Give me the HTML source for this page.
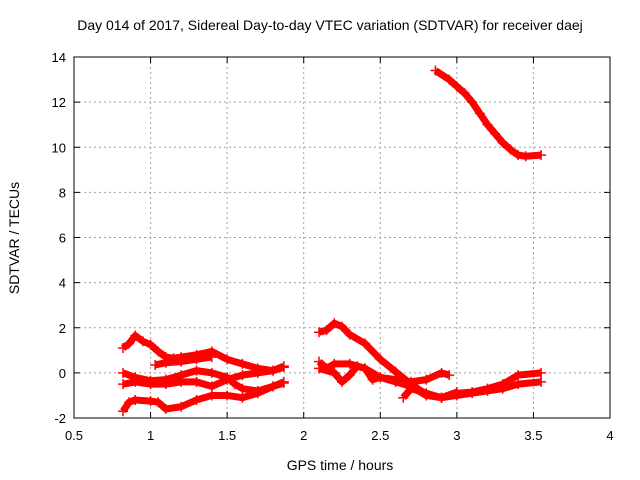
<!DOCTYPE html>
<html><head><meta charset="utf-8"><style>
body{margin:0;background:#fff}
svg{display:block;font-family:"Liberation Sans",sans-serif}
</style></head><body>
<svg id="c" width="640" height="480"></svg>
<script>
const xTicks=[0.5,1,1.5,2,2.5,3,3.5,4];
const xTickLabels=["0.5","1","1.5","2","2.5","3","3.5","4"];
const yTicks=[-2,0,2,4,6,8,10,12,14];
const yTickLabels=["-2","0","2","4","6","8","10","12","14"];
const s1t=[0.82,0.86,0.9,0.95,1.0,1.05,1.1,1.15,1.2,1.3,1.4,1.5,1.6,1.7,1.8,1.87];
const s1v=[1.1,1.3,1.65,1.4,1.25,0.95,0.7,0.65,0.7,0.8,0.95,0.6,0.4,0.2,0.1,0.25];
const s2t=[1.03,1.1,1.2,1.3,1.4];
const s2v=[0.35,0.45,0.5,0.6,0.7];
const s3t=[0.82,0.9,1.0,1.1,1.2,1.3,1.4,1.5,1.55,1.6,1.7,1.8,1.87];
const s3v=[0.0,-0.2,-0.35,-0.3,-0.1,0.1,0.0,-0.2,-0.5,-0.7,-0.8,-0.6,-0.4];
const s4t=[0.82,0.9,1.0,1.1,1.2,1.3,1.4,1.5,1.6,1.7,1.8,1.87];
const s4v=[-0.5,-0.4,-0.5,-0.5,-0.4,-0.4,-0.6,-0.3,-0.1,0.0,0.1,0.3];
const s5t=[0.82,0.86,0.9,1.0,1.05,1.1,1.2,1.3,1.4,1.5,1.6,1.7,1.8,1.87];
const s5v=[-1.7,-1.3,-1.2,-1.25,-1.3,-1.6,-1.5,-1.2,-1.0,-1.0,-1.1,-0.9,-0.6,-0.45];
const t1t=[2.1,2.15,2.2,2.25,2.3,2.4,2.5,2.6,2.7,2.8,2.9,3.0,3.1,3.2,3.3,3.4,3.55];
const t1v=[1.8,1.9,2.2,2.05,1.7,1.3,0.6,0.05,-0.5,-0.95,-1.1,-0.9,-0.85,-0.7,-0.5,-0.1,0.0];
const t2t=[2.1,2.15,2.2,2.3,2.4,2.5,2.6,2.7,2.8,2.9,3.0,3.1,3.2,3.3,3.4,3.55];
const t2v=[0.5,0.2,0.4,0.4,0.2,-0.2,-0.4,-0.6,-1.0,-1.1,-1.0,-0.9,-0.8,-0.7,-0.5,-0.4];
const t3t=[2.1,2.2,2.25,2.3,2.35,2.4,2.45,2.5,2.6,2.7,2.8,2.9,2.95];
const t3v=[0.2,0.0,-0.4,-0.1,0.3,0.2,-0.3,-0.2,-0.3,-0.4,-0.3,0.0,-0.1];
const t4t=[2.65,2.7,2.8,2.9,3.0];
const t4v=[-1.1,-0.7,-0.9,-1.1,-0.85];
const ut=[2.86,2.95,3.0,3.05,3.1,3.15,3.2,3.25,3.3,3.35,3.4,3.45,3.55];
const uv=[13.4,13.0,12.7,12.4,12.0,11.5,11.0,10.6,10.2,9.9,9.65,9.6,9.65];
const series=[[s1t,s1v],[s2t,s2v],[s3t,s3v],[s4t,s4v],[s5t,s5v],[t1t,t1v],[t2t,t2v],[t3t,t3v],[t4t,t4v],[ut,uv]];

const L=74,R=610,T=57,B=418,xmin=0.5,xmax=4,ymin=-2,ymax=14;
const X=v=>L+(v-xmin)/(xmax-xmin)*(R-L);
const Y=v=>B-(v-ymin)/(ymax-ymin)*(B-T);
const svg=document.getElementById('c');
const NS='http://www.w3.org/2000/svg';
function mk(tag,at,parent){const e=document.createElementNS(NS,tag);for(const k in at)e.setAttribute(k,at[k]);(parent||svg).appendChild(e);return e;}

xTicks.forEach((v,i)=>{
 if(i>0&&i<xTicks.length-1){const g=mk('line',{x1:X(v),x2:X(v),y1:T,y2:B,stroke:'#a0a0a0','stroke-dasharray':'2,3'});
 
 }
 mk('line',{x1:X(v),x2:X(v),y1:B,y2:B-6,stroke:'#000'});
 mk('line',{x1:X(v),x2:X(v),y1:T,y2:T+6,stroke:'#000'});
 const t=mk('text',{x:X(v),y:B+22,'text-anchor':'middle','font-size':13});t.textContent=xTickLabels[i];
 
 
});
yTicks.forEach((v,i)=>{
 if(i>0&&i<yTicks.length-1){const g=mk('line',{x1:L,x2:R,y1:Y(v),y2:Y(v),stroke:'#a0a0a0','stroke-dasharray':'2,3'});
 
 }
 mk('line',{x1:L,x2:L+6,y1:Y(v),y2:Y(v),stroke:'#000'});
 mk('line',{x1:R,x2:R-6,y1:Y(v),y2:Y(v),stroke:'#000'});
 const t=mk('text',{x:L-8,y:Y(v)+5,'text-anchor':'end','font-size':13});t.textContent=yTickLabels[i];
 
 
});
const fr=mk('rect',{x:L,y:T,width:R-L,height:B-T,fill:'none',stroke:'#000'});



series.forEach(([ts,vs])=>{
 const g=mk('g',{});
 
 
 mk('polyline',{points:ts.map((t,i)=>X(t)+','+Y(vs[i])).join(' '),fill:'none',stroke:'#f00','stroke-width':7,'stroke-linejoin':'round'},g);
 ts.forEach((t,i)=>{
  const x=X(t),y=Y(vs[i]);
  const p=mk('path',{d:`M${x-5},${y}h10M${x},${y-5}v10`,stroke:'#f00','stroke-width':1.5},g);
  
  
 });
});
</script>
<div style="position:absolute;left:0;top:17px;width:640px;text-align:center;font:14px 'Liberation Sans',sans-serif;padding-left:20px;box-sizing:border-box">Day 014 of 2017, Sidereal Day-to-day VTEC variation (SDTVAR) for receiver daej</div>
<div style="position:absolute;left:0;top:457px;width:640px;padding-left:40px;box-sizing:border-box;text-align:center;font:14px 'Liberation Sans',sans-serif">GPS time / hours</div>
<div style="position:absolute;left:-66px;top:230px;width:160px;text-align:center;font:14px 'Liberation Sans',sans-serif;transform:rotate(-90deg)">SDTVAR / TECUs</div>
</body></html>
